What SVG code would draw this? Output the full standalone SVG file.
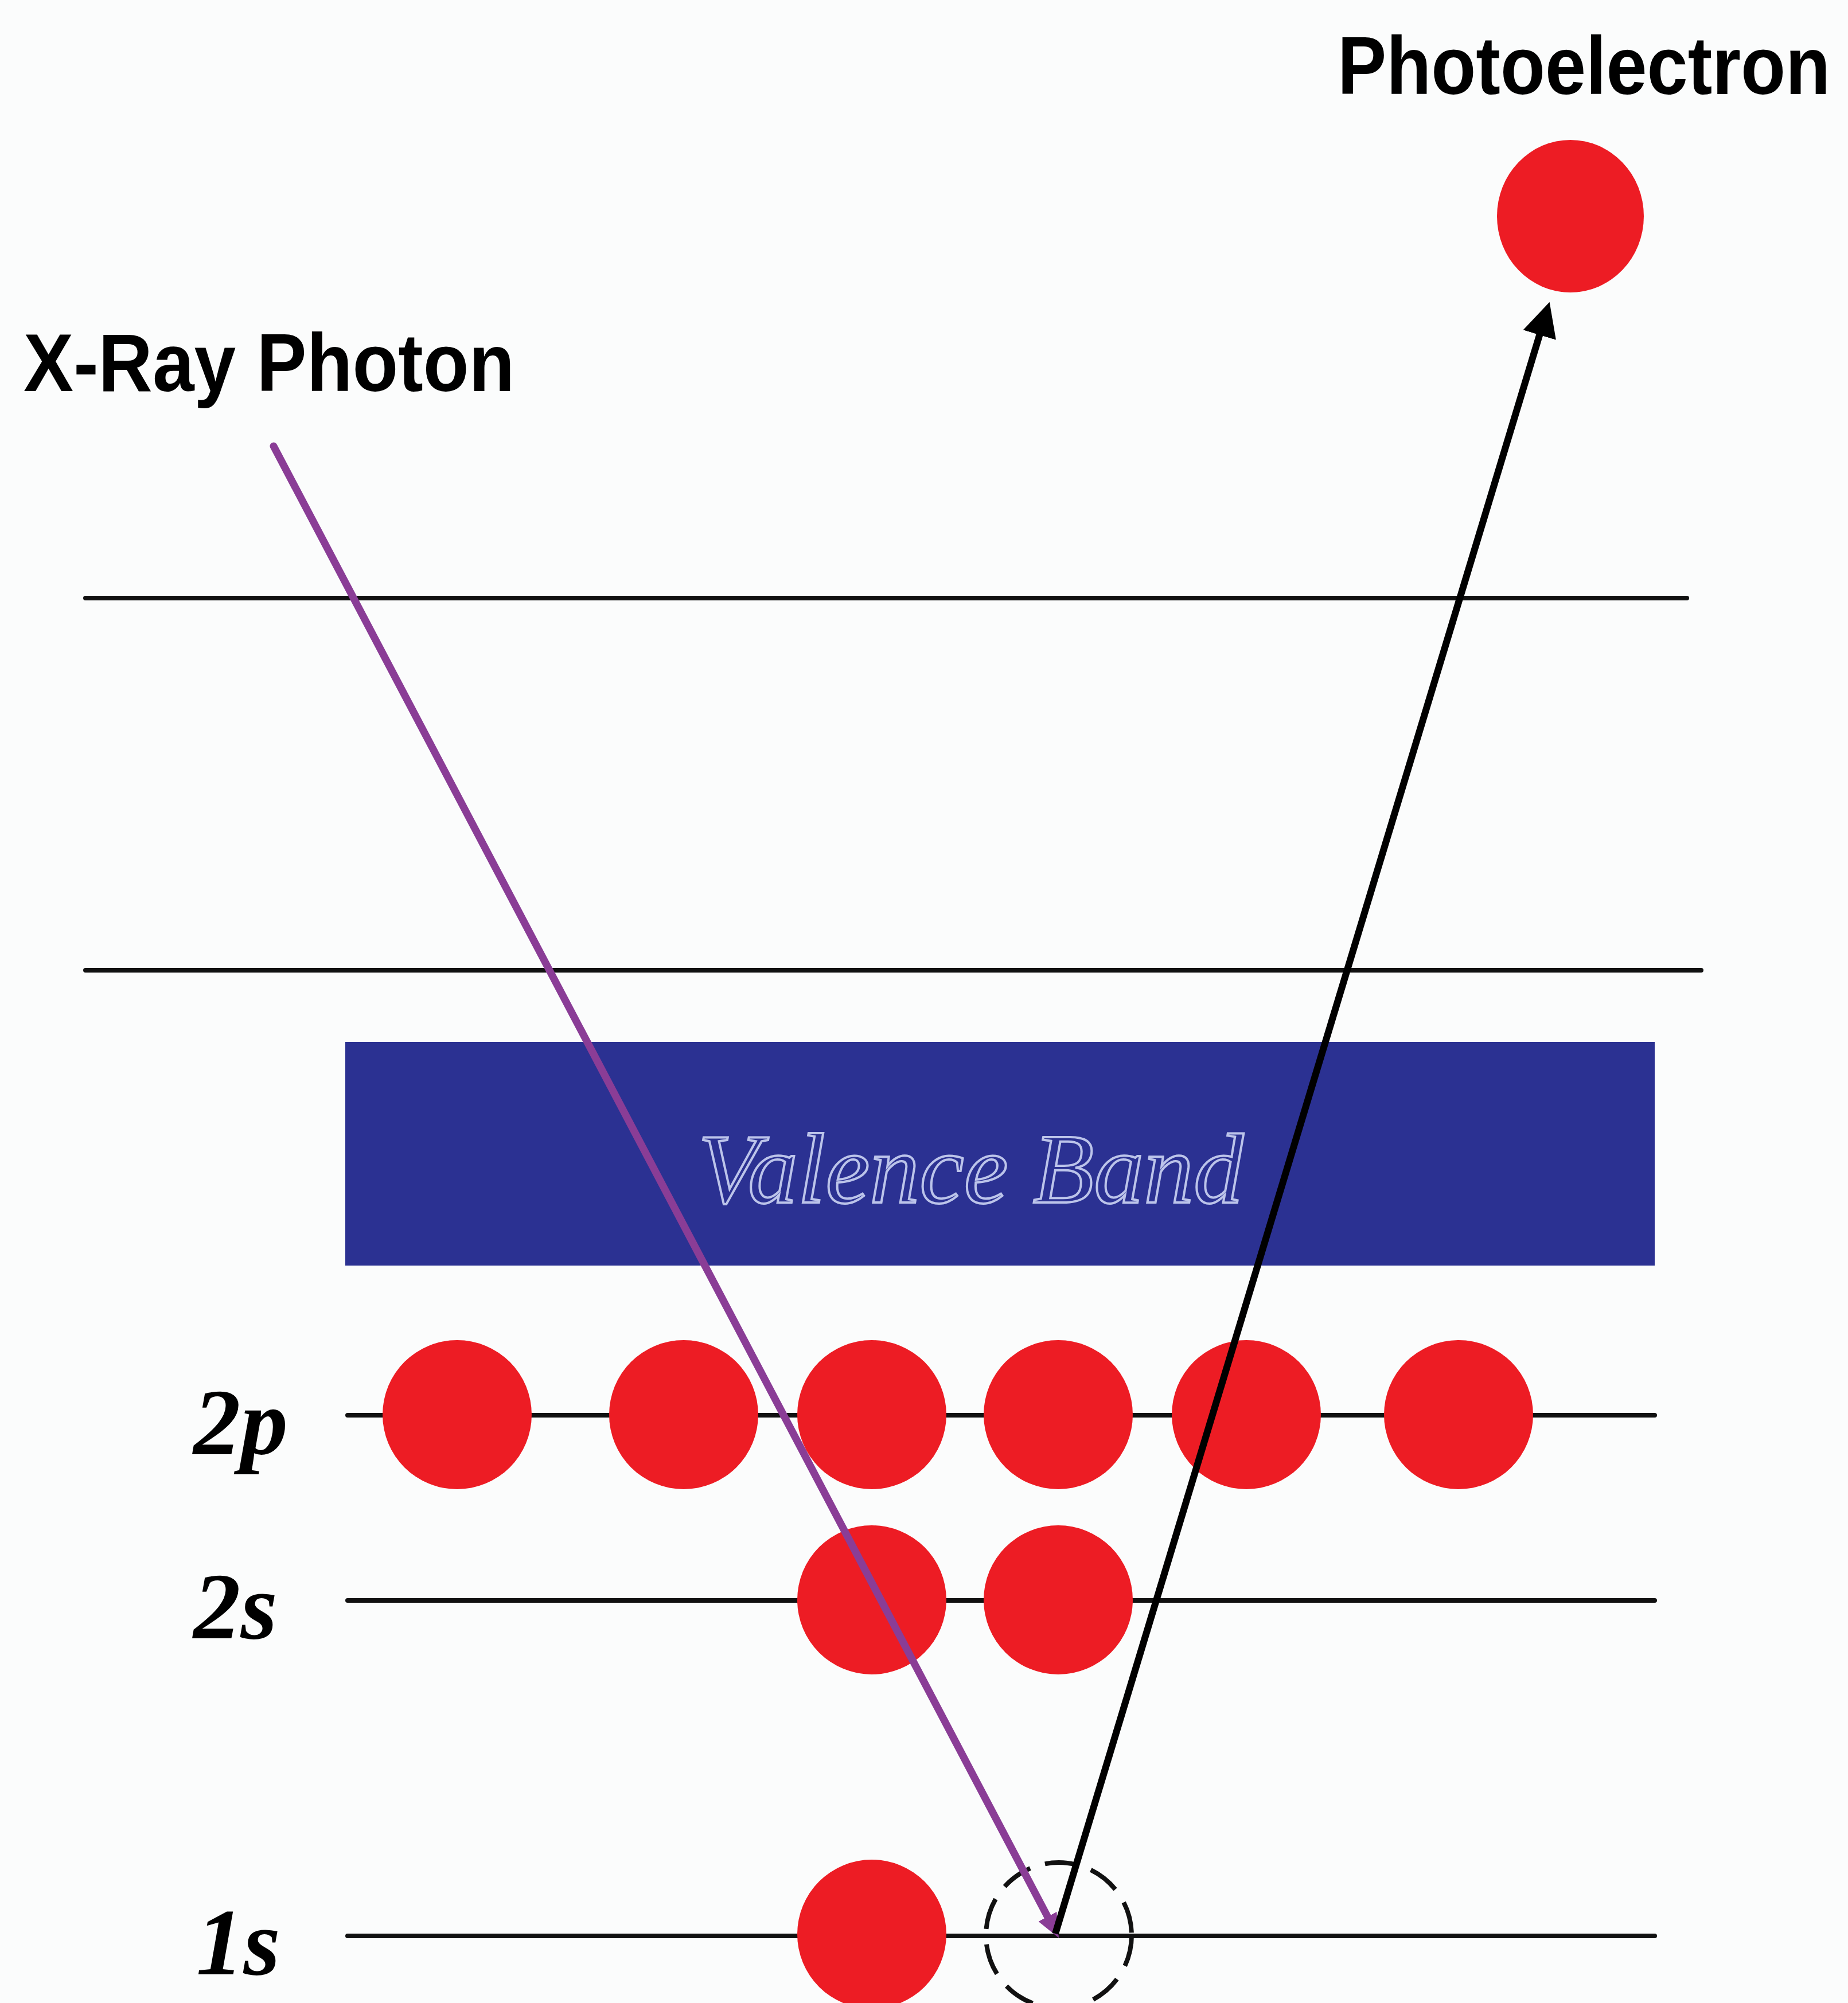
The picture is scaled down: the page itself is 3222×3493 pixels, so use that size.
<svg xmlns="http://www.w3.org/2000/svg" width="3222" height="3493" viewBox="0 0 3222 3493">
<style>
.lvl{stroke:#111;stroke-width:8;stroke-linecap:round}
.el{fill:#ed1c24}
.lbl{font-family:"Liberation Sans",Arial,sans-serif;font-weight:bold;font-size:142px;fill:#000}
.orb{font-family:"Liberation Serif","Times New Roman",serif;font-weight:bold;font-style:italic;font-size:165px;fill:#000}
.vb{font-family:"Liberation Serif","Times New Roman",serif;font-style:italic;font-size:174px;fill:#2b3192;stroke:#bcc4ea;stroke-width:4}
</style>
<defs>
<marker id="ahBlack" markerUnits="userSpaceOnUse" markerWidth="60" markerHeight="60" viewBox="0 0 60 60" refX="20" refY="30" orient="auto"><path d="M0,0 L60,30 L0,60 Z" fill="#000"/></marker>
<marker id="ahPurple" markerUnits="userSpaceOnUse" markerWidth="42" markerHeight="36" viewBox="0 0 42 36" refX="12" refY="18" orient="auto"><path d="M0,0 L42,18 L0,36 Z" fill="#8a3d96"/></marker>
</defs>
<rect x="0" y="0" width="3222" height="3493" fill="#fbfcfc"/>
<g id="levels">
<line class="lvl" x1="149" y1="1043" x2="2941" y2="1043"/>
<line class="lvl" x1="149" y1="1692" x2="2966" y2="1692"/>
<line class="lvl" x1="606" y1="2468" x2="2885" y2="2468"/>
<line class="lvl" x1="606" y1="2791" x2="2885" y2="2791"/>
<line class="lvl" x1="606" y1="3376" x2="2885" y2="3376"/>
</g>
<g id="valence-band">
<rect x="602" y="1817" width="2283" height="390" fill="#2b3192"/>
<text class="vb" x="1217" y="2097" textLength="951" lengthAdjust="spacingAndGlyphs">Valence Band</text>
</g>
<g id="label-2p"><text class="orb" x="337" y="2536">2p</text></g>
<g id="label-2s"><text class="orb" x="337" y="2857">2s</text></g>
<g id="label-1s"><text class="orb" x="342" y="3443">1s</text></g>
<g id="electrons-2p">
<circle class="el" cx="797" cy="2467" r="130"/>
<circle class="el" cx="1192" cy="2467" r="130"/>
<circle class="el" cx="1520" cy="2467" r="130"/>
<circle class="el" cx="1845" cy="2467" r="130"/>
<circle class="el" cx="2173" cy="2467" r="130"/>
<circle class="el" cx="2543" cy="2467" r="130"/>
</g>
<g id="electrons-2s">
<circle class="el" cx="1520" cy="2790" r="130"/>
<circle class="el" cx="1845" cy="2790" r="130"/>
</g>
<g id="electrons-1s">
<circle class="el" cx="1520" cy="3373" r="130"/>
</g>
<g id="hole-1s">
<circle cx="1846" cy="3375" r="127" fill="none" stroke="#111" stroke-width="8" stroke-dasharray="55 27"/>
</g>
<g id="photoelectron">
<ellipse class="el" cx="2738" cy="377" rx="128" ry="133"/>
<text class="lbl" transform="translate(2332,164) scale(0.9,1)" x="0" y="0">Photoelectron</text>
</g>
<g id="xray-photon">
<text class="lbl" transform="translate(41,682) scale(0.92,1)" x="0" y="0">X-Ray Photon</text>
</g>
<g id="connectors">
<line x1="477" y1="778" x2="1832" y2="3353" stroke="#8a3d96" stroke-width="13" stroke-linecap="round" marker-end="url(#ahPurple)"/>
<line x1="1840" y1="3372" x2="2690" y2="565" stroke="#000" stroke-width="12" marker-end="url(#ahBlack)"/>
</g>
</svg>
